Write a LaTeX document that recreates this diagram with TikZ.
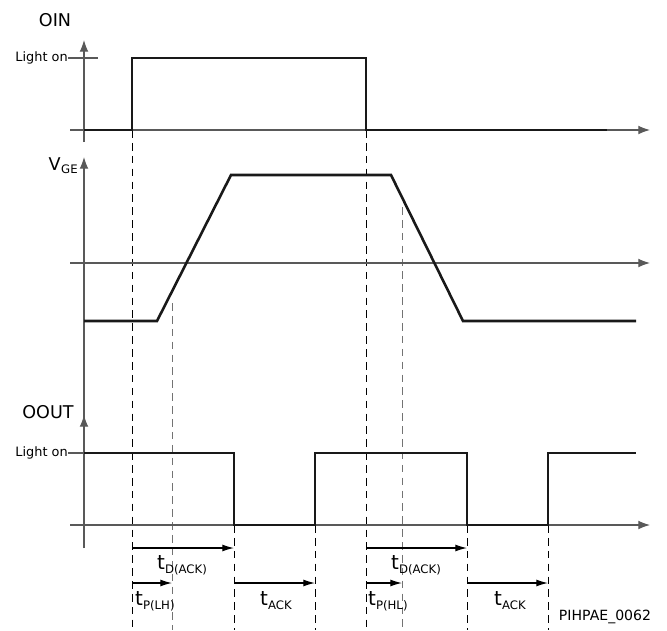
\documentclass[tikz,border=0pt]{standalone}
\usepackage{fontspec}
\setmainfont{DejaVu Sans}
\usepackage{tikz}
\usetikzlibrary{arrows.meta}

\begin{document}
\begin{tikzpicture}[
        x=0.03cm, y=-0.03cm,
        axis/.style={draw=black!65, line width=1pt},
        axisarrow/.style={axis, -{Latex[length=10pt, width=7.5pt]}},
        signal/.style={draw=black!90, line width=2.2pt, line join=miter},
        guide/.style={draw=black, line width=0.6pt, dash pattern=on 6.5pt off 4.5pt},
        guidegray/.style={guide, draw=black!55},
        delay/.style={draw=black, line width=1pt, -{Latex[length=10pt, width=6pt]}},
        lbl/.style={inner sep=0pt, font=\fontsize{11}{13}\selectfont},
        big/.style={inner sep=0pt, font=\fontsize{15}{17}\selectfont},
        tlbl/.style={inner sep=0pt, font=\fontsize{17}{19}\selectfont}
    ]

    \useasboundingbox (0,0) rectangle (667,630);

    % Time instants
    \coordinate (tA) at (132,0);
    \coordinate (tB) at (172,0);
    \coordinate (tC) at (234,0);
    \coordinate (tD) at (315,0);
    \coordinate (tE) at (366,0);
    \coordinate (tF) at (402,0);
    \coordinate (tG) at (467,0);
    \coordinate (tH) at (548,0);

    % Guide lines
    \draw[guide] (tA |- 0,130) -- (tA |- 0,630);
    \draw[guide] (tE |- 0,130) -- (tE |- 0,630);
    \draw[guidegray] (tB |- 0,303) -- (tB |- 0,630);
    \draw[guidegray] (tF |- 0,207) -- (tF |- 0,630);
    \draw[guide] (tC |- 0,525) -- (tC |- 0,630);
    \draw[guide] (tD |- 0,525) -- (tD |- 0,630);
    \draw[guide] (tG |- 0,525) -- (tG |- 0,630);
    \draw[guide] (tH |- 0,525) -- (tH |- 0,630);

    % OIN
    \node[big] (oin) at (55,20) {OIN};
    \draw[axisarrow] (84,142) -- (84,40);
    \draw[axisarrow] (70,130) -- (650,130);
    \node[lbl, anchor=east] (inon) at (68,58) {Light on};
    \draw[axis] (inon.east) -- (98,58);
    \draw[signal] (84,130) -- (tA |- 0,130) -- (tA |- 0,58) -- (tE |- 0,58)
        -- (tE |- 0,130) -- (607,130);

    % VGE
    \node[big, anchor=base east] (vge) at (61,170) {V};
    \node[lbl, font=\fontsize{10}{12}\selectfont, anchor=base west] (vgesub) at (vge.base east) {\raisebox{-3pt}{GE}};
    \draw[axisarrow] (84,548) -- (84,157);
    \draw[axisarrow] (70,263) -- (650,263);
    \draw[signal] (84,321) -- (157,321) -- (231,175) -- (391,175) -- (463,321) -- (636,321);

    % OOUT
    \node[big] (oout) at (48,412) {OOUT};
    \draw[axisarrow] (84,548) -- (84,415);
    \draw[axisarrow] (70,525) -- (650,525);
    \node[lbl, anchor=east] (outon) at (68,453) {Light on};
    \draw[axis] (outon.east) -- (84,453);
    \draw[signal] (84,453) -- (tC |- 0,453) -- (tC |- 0,525) -- (tD |- 0,525)
        -- (tD |- 0,453) -- (tG |- 0,453) -- (tG |- 0,525) -- (tH |- 0,525)
        -- (tH |- 0,453) -- (636,453);

    % Delays
    \draw[delay] (tA |- 0,548) -- (tC |- 0,548);
    \draw[delay] (tA |- 0,583) -- (tB |- 0,583);
    \draw[delay] (tC |- 0,583) -- (tD |- 0,583);
    \draw[delay] (tE |- 0,548) -- (tG |- 0,548);
    \draw[delay] (tE |- 0,583) -- (tF |- 0,583);
    \draw[delay] (tG |- 0,583) -- (tH |- 0,583);

    \node[tlbl, anchor=base west] (td1) at (157,569) {t\raisebox{-4pt}{\fontsize{10}{12}\selectfont D(ACK)}};
    \node[tlbl, anchor=base west] (tp1) at (135,605) {t\raisebox{-4pt}{\fontsize{10}{12}\selectfont P(LH)}};
    \node[tlbl, anchor=base west] (ta1) at (260,605) {t\raisebox{-4pt}{\fontsize{10}{12}\selectfont ACK}};
    \node[tlbl, anchor=base west] (td2) at (391,569) {t\raisebox{-4pt}{\fontsize{10}{12}\selectfont D(ACK)}};
    \node[tlbl, anchor=base west] (tp2) at (368,605) {t\raisebox{-4pt}{\fontsize{10}{12}\selectfont P(HL)}};
    \node[tlbl, anchor=base west] (ta2) at (494,605) {t\raisebox{-4pt}{\fontsize{10}{12}\selectfont ACK}};

    \node[lbl, font=\fontsize{12}{14}\selectfont] (code) at (605,617) {PIHPAE\_0062};

\end{tikzpicture}
\end{document}
